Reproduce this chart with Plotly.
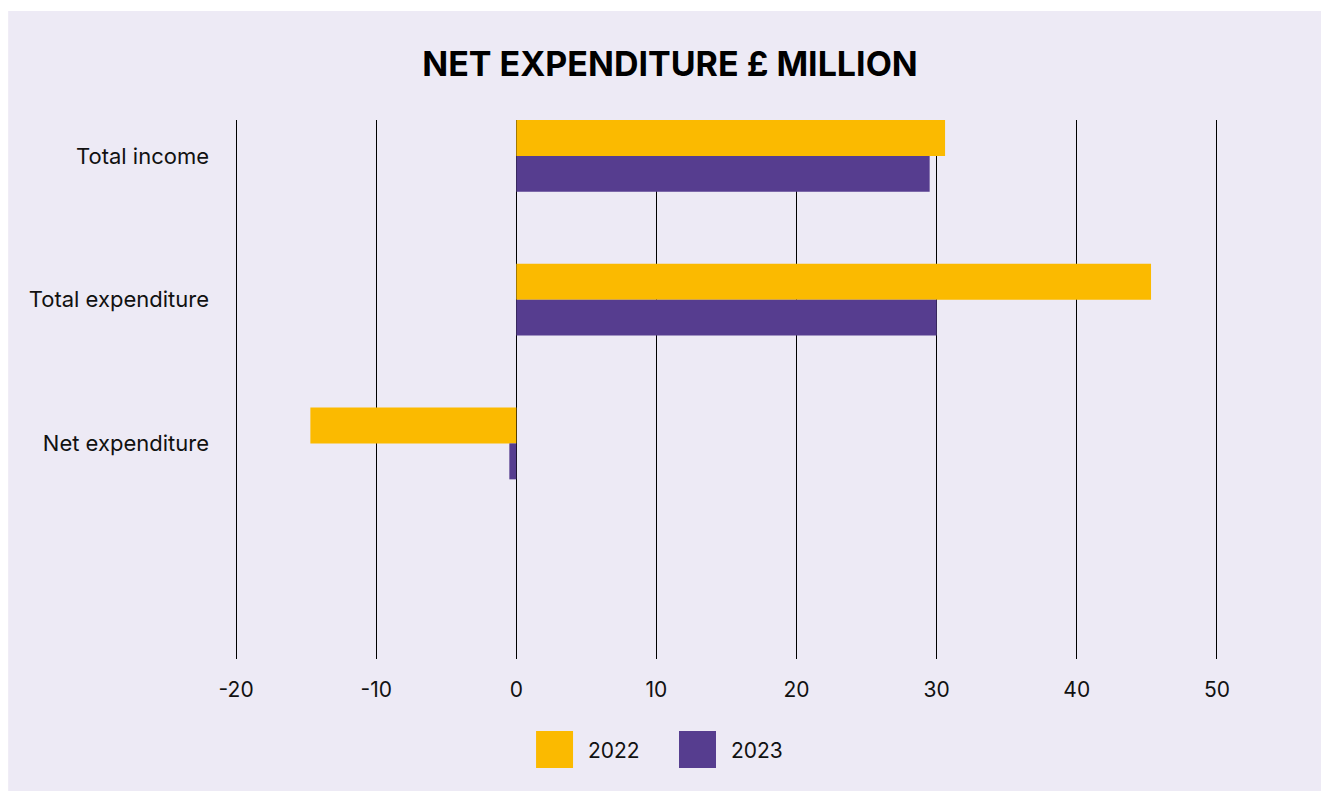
import plotly.graph_objects as go

categories = ["Total income", "Total expenditure", "Net expenditure"]
series_names = ["2022", "2023"]
values_2022 = [30.6, 45.3, -14.7]
values_2023 = [29.5, 30.0, -0.5]
x_ticks = [-20, -10, 0, 10, 20, 30, 40, 50]
colors = ["#FBBA00", "#563D8F"]
title_text = "NET EXPENDITURE £ MILLION"

OFF = 0
W, H = 1321, 791
XMIN, XMAX = -20.08, 50.08
# pixel positions of -20 and 50 in the screenshot
PX20, PX50 = 236, 1217
unit = (PX50 - PX20) / 70.0
left_px = PX20 - (-20 - XMIN) * unit - OFF
right_px = PX50 + (XMAX - 50) * unit - OFF
L = left_px
R = W - right_px
T = 120 - OFF
B = H - (659 - OFF)
PW = W - L - R
PH = H - T - B

def px_to_paper_x(px):
    return (px - OFF - L) / PW

def px_to_paper_y(py):
    return 1 - (py - OFF - T) / PH

fig = go.Figure()
for name, vals, col in zip(series_names, [values_2022, values_2023], colors):
    fig.add_trace(go.Bar(
        y=categories, x=vals, name=name, orientation="h",
        marker=dict(color=col, line=dict(width=0)),
        showlegend=False,
    ))

# background panel
fig.add_shape(type="rect", xref="paper", yref="paper",
              x0=px_to_paper_x(8), x1=px_to_paper_x(1340),
              y0=px_to_paper_y(800), y1=px_to_paper_y(11),
              fillcolor="#EDEAF5", line=dict(width=0), layer="below")

# manual legend
leg_x = [536, 679]
for name, col, lx in zip(series_names, colors, leg_x):
    fig.add_shape(type="rect", xref="paper", yref="paper",
                  x0=px_to_paper_x(lx), x1=px_to_paper_x(lx + 37),
                  y0=px_to_paper_y(768), y1=px_to_paper_y(731),
                  fillcolor=col, line=dict(width=0))
    fig.add_annotation(xref="paper", yref="paper",
                       x=px_to_paper_x(lx + 50), y=px_to_paper_y(750),
                       text=name, showarrow=False, xanchor="left", yanchor="middle",
                       font=dict(family="Inter", size=21, color="#111111"))

fig.update_layout(
    width=W, height=H,
    margin=dict(l=L, r=R, t=T, b=B, pad=0),
    paper_bgcolor="white",
    plot_bgcolor="rgba(0,0,0,0)",
    barmode="group", bargap=0.5, bargroupgap=0,
    title=dict(text="<b>" + title_text + "</b>", x=px_to_paper_x(670), xref="paper",
               xanchor="center", y=1 - (64 - OFF) / H, yanchor="middle",
               font=dict(family="Inter", size=34, color="#000000")),
    font=dict(family="Inter", color="#111111"),
    showlegend=False,
)
fig.update_xaxes(
    range=[XMIN, XMAX], tickvals=x_ticks, ticktext=[str(v) for v in x_ticks],
    showgrid=True, gridcolor="#000000", gridwidth=1,
    zeroline=False, showline=False, ticks="",
    tickfont=dict(family="Inter", size=21, color="#111111"),
    ticklabelstandoff=16,
)
fig.update_yaxes(
    type="category", categoryorder="array", categoryarray=categories,
    range=[3.5, -0.25], showgrid=False, zeroline=False, showline=False, ticks="",
    tickfont=dict(family="Inter", size=22, color="#111111"),
    ticklabelstandoff=25,
)

fig.write_html(
    "out.html",
    config={"displayModeBar": False},
    post_script="document.body.style.margin='0';document.body.style.overflow='hidden';",
)
